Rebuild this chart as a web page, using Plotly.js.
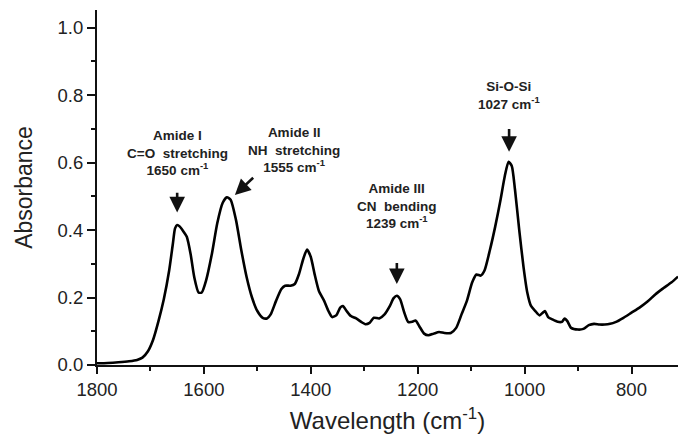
<!DOCTYPE html>
<html>
<head>
<meta charset="utf-8">
<script src="https://cdn.plot.ly/plotly-3.0.1.min.js"></script>
<style>html,body{margin:0;padding:0;background:#fff;}#chart{width:678px;height:443px;}</style>
</head>
<body>
<div id="chart"></div>
<script>
const wavenumber = [1800,1780,1760,1740,1725,1715,1705,1695,1685,1675,1665,1658,1654,1650,1645,1638,1632,1625,1618,1610,1604,1596,1585,1575,1565,1557,1550,1540,1530,1520,1510,1500,1490,1482,1475,1465,1455,1448,1438,1430,1422,1414,1407,1400,1393,1385,1375,1367,1360,1352,1345,1340,1333,1325,1315,1305,1298,1290,1282,1272,1262,1252,1245,1239,1233,1225,1218,1210,1204,1197,1188,1180,1170,1160,1150,1138,1128,1118,1108,1098,1090,1082,1075,1065,1055,1045,1037,1030,1024,1018,1010,1002,995,988,980,972,966,962,956,948,938,930,925,920,913,900,890,880,870,860,850,840,830,815,800,785,770,755,740,725,713];
const absorbance = [0.005,0.006,0.008,0.011,0.015,0.022,0.04,0.075,0.13,0.195,0.28,0.36,0.405,0.415,0.41,0.395,0.38,0.33,0.26,0.215,0.215,0.25,0.33,0.42,0.48,0.497,0.49,0.43,0.34,0.26,0.2,0.16,0.14,0.138,0.15,0.19,0.225,0.235,0.235,0.24,0.27,0.315,0.342,0.32,0.27,0.22,0.19,0.16,0.142,0.148,0.17,0.175,0.16,0.145,0.138,0.127,0.121,0.125,0.14,0.138,0.15,0.175,0.198,0.205,0.195,0.155,0.128,0.128,0.132,0.115,0.093,0.088,0.093,0.098,0.095,0.095,0.11,0.15,0.19,0.245,0.268,0.265,0.28,0.34,0.41,0.49,0.56,0.602,0.59,0.52,0.40,0.29,0.215,0.175,0.16,0.147,0.155,0.16,0.142,0.135,0.128,0.128,0.138,0.13,0.11,0.105,0.107,0.118,0.122,0.12,0.12,0.122,0.127,0.14,0.155,0.17,0.188,0.21,0.228,0.245,0.262];

const bandLabels = ["Amide I<br>C=O&nbsp; stretching<br>1650 cm<sup>-1</sup>",
                    "Amide II<br>NH&nbsp; stretching<br>1555 cm<sup>-1</sup>",
                    "Amide III<br>CN&nbsp; bending<br>1239 cm<sup>-1</sup>",
                    "Si-O-Si<br>1027 cm<sup>-1</sup>"];
const bandLabelX = [1649, 1432, 1239, 1029];
const bandLabelY = [0.628, 0.636, 0.47, 0.80];

const annFont = {family: "Liberation Sans Narrow, Arial Narrow, Liberation Sans, sans-serif", size: 13.5, color: "#222"};
const annotations = [];
for (let i = 0; i < bandLabels.length; i++) {
  annotations.push({x: bandLabelX[i], y: bandLabelY[i], xref: "x", yref: "y", text: "<b>" + bandLabels[i].split("<br>").join("</b><br><b>") + "</b>",
    showarrow: false, font: annFont, align: "center", xanchor: "center", yanchor: "middle"});
}
function arrow(x0, y0, x1, y1) {
  return {x: x1, y: y1, ax: x0, ay: y0, xref: "x", yref: "y", axref: "x", ayref: "y", text: "",
    showarrow: true, arrowhead: 2, arrowsize: 1.2, arrowwidth: 2.6, arrowcolor: "#111"};
}
annotations.push(arrow(1650, 0.515, 1650, 0.452));
annotations.push(arrow(1505, 0.559, 1542, 0.504));
annotations.push(arrow(1239, 0.307, 1239, 0.24));
annotations.push(arrow(1029, 0.704, 1029, 0.632));

const tickFont = {family: "Liberation Sans, Arial, sans-serif", size: 18.5, color: "#222"};

Plotly.newPlot("chart", [{
  x: wavenumber, y: absorbance, type: "scatter", mode: "lines",
  line: {color: "#000", width: 2.6, shape: "spline", smoothing: 0.6},
  hoverinfo: "skip"
}], {
  width: 678, height: 443,
  margin: {l: 97, r: 0, t: 10, b: 78},
  paper_bgcolor: "#fff", plot_bgcolor: "#fff",
  showlegend: false,
  xaxis: {
    range: [1800, 713], showgrid: false, zeroline: false,
    showline: true, linecolor: "#111", linewidth: 2,
    ticks: "outside", ticklen: 7, tickwidth: 2, tickcolor: "#111",
    tickvals: [1800, 1600, 1400, 1200, 1000, 800],
    minor: {tickvals: [1700, 1500, 1300, 1100, 900], ticks: "outside", ticklen: 4, tickwidth: 2, tickcolor: "#111"},
    tickfont: tickFont,
    title: {text: "Wavelength (cm<sup>-1</sup>)", font: {family: "Liberation Sans, Arial, sans-serif", size: 24, color: "#222"}, standoff: 13}
  },
  yaxis: {
    range: [0, 1.052], showgrid: false, zeroline: false,
    showline: true, linecolor: "#111", linewidth: 2,
    ticks: "outside", ticklen: 8, tickwidth: 2, tickcolor: "#111",
    tickvals: [0, 0.2, 0.4, 0.6, 0.8, 1.0], ticktext: ["0.0", "0.2", "0.4", "0.6", "0.8", "1.0"],
    minor: {tickvals: [0.1, 0.3, 0.5, 0.7, 0.9], ticks: "outside", ticklen: 4, tickwidth: 2, tickcolor: "#111"},
    tickfont: tickFont,
    title: {text: "Absorbance", font: {family: "Liberation Sans, Arial, sans-serif", size: 23, color: "#222"}, standoff: 19}
  },
  annotations: annotations
}, {staticPlot: true, displayModeBar: false});
</script>
</body>
</html>
